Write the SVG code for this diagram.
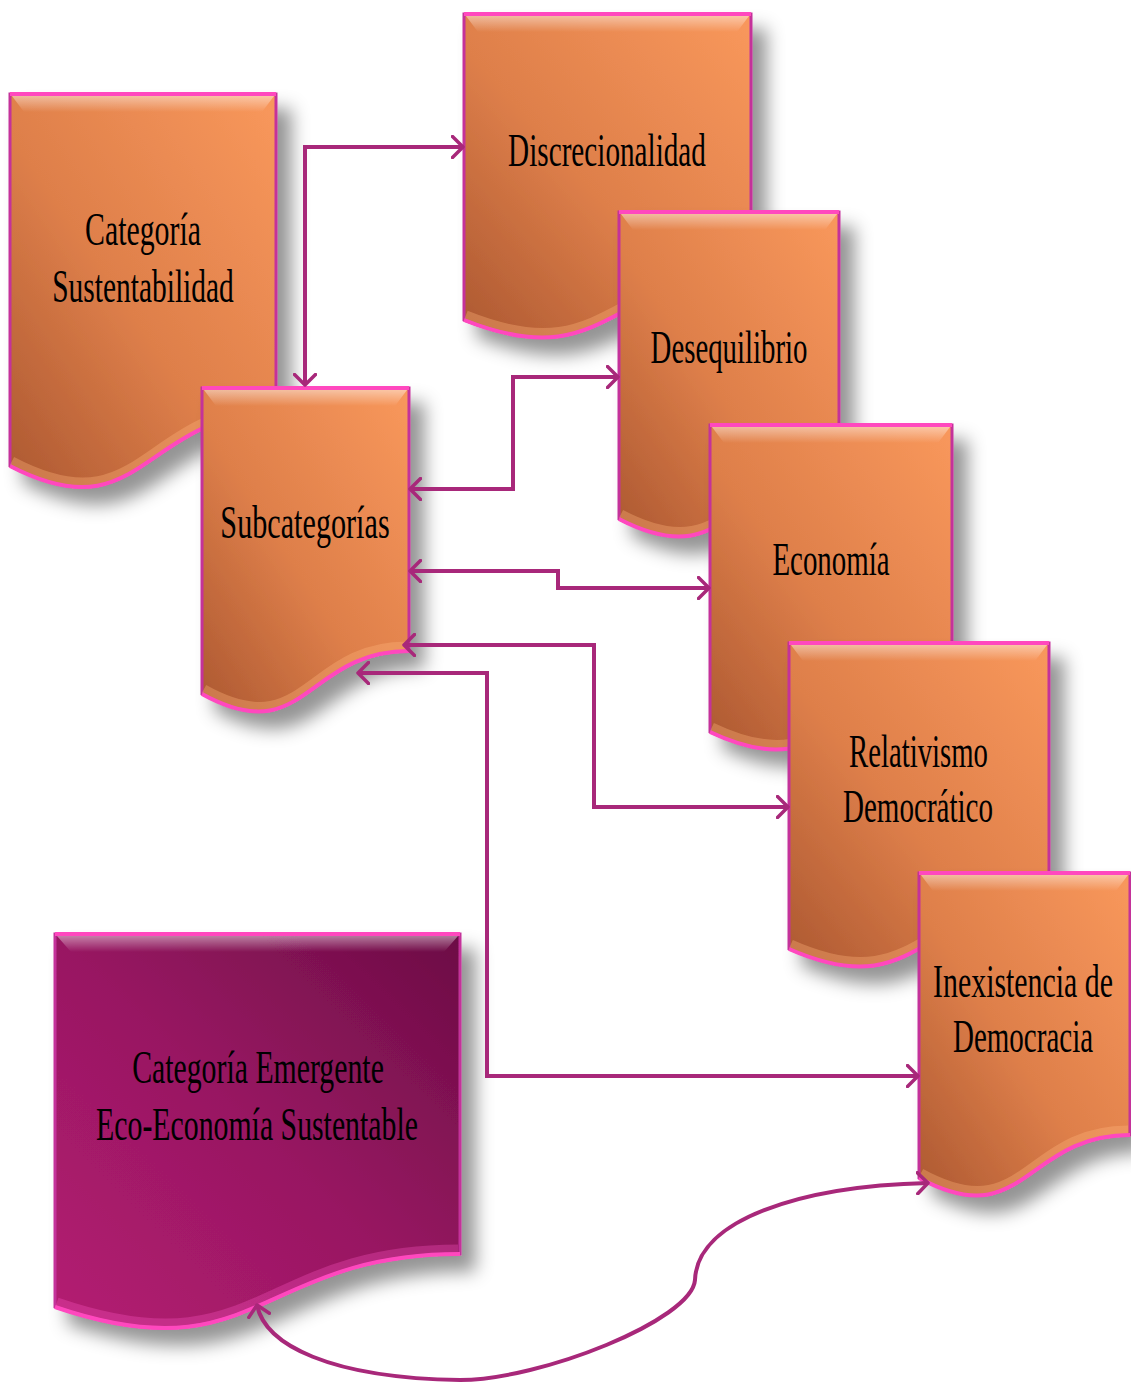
<svg xmlns="http://www.w3.org/2000/svg" width="1131" height="1383" viewBox="0 0 1131 1383">
<defs>
  <linearGradient id="gOr" x1="0" y1="1" x2="1" y2="0">
    <stop offset="0" stop-color="#AC5831"/>
    <stop offset="0.45" stop-color="#DE7F4A"/>
    <stop offset="1" stop-color="#F9985C"/>
  </linearGradient>
  <linearGradient id="gPu" x1="0" y1="1" x2="1" y2="0">
    <stop offset="0" stop-color="#B41D72"/>
    <stop offset="0.5" stop-color="#981762"/>
    <stop offset="1" stop-color="#6C0D45"/>
  </linearGradient>
  <linearGradient id="gTop" x1="0" y1="0" x2="0" y2="1">
    <stop offset="0" stop-color="#FFFFFF" stop-opacity="0.45"/>
    <stop offset="1" stop-color="#FFFFFF" stop-opacity="0"/>
  </linearGradient>
  <filter id="sh" x="-20%" y="-20%" width="150%" height="150%">
    <feDropShadow dx="14" dy="16" stdDeviation="9" flood-color="#000" flood-opacity="0.42"/>
  </filter>
  <marker id="ar" viewBox="0 0 14 24" refX="12" refY="12" markerWidth="14" markerHeight="24" markerUnits="userSpaceOnUse" orient="auto-start-reverse">
    <path d="M1.5,1.5 L12,12 L1.5,22.5" fill="none" stroke="#A8287A" stroke-width="3.5" stroke-linecap="round" stroke-linejoin="round"/>
  </marker>
</defs>
<style>
  .or { fill: url(#gOr); stroke: #C4339A; stroke-width: 3; filter: url(#sh); }
  .pu { fill: url(#gPu); stroke: #C4339A; stroke-width: 3; filter: url(#sh); }
  .edge { fill: none; stroke: #FF48BE; stroke-width: 4; }
  .top { fill: url(#gTop); }
  .wave { fill: none; stroke: #FFB47C; stroke-width: 9; stroke-opacity: 0.35; }
  .wavep { fill: none; stroke: #FF5AC8; stroke-width: 9; stroke-opacity: 0.3; }
  .t { font-family: "Liberation Serif", "Times New Roman", serif; font-size: 46px; fill: #000; text-anchor: middle; }
  .c { fill: none; stroke: #A8287A; stroke-width: 4; }
</style>

<g id="n-categoria">
  <path class="or" d="M10,94 H276 V413 C143,413 143,535 10,466 Z"/>
  <path class="top" d="M12,96 H274 L262,112 H24 Z"/>
  <path class="wave" d="M274,408 C143,408 143,530 12,461"/>
  <path class="edge" d="M10,94 H276 M276,413 C143,413 143,535 10,466"/>
  <text class="t" transform="translate(143,245) scale(0.62,1)" x="0" y="0" textLength="187" lengthAdjust="spacingAndGlyphs">Categoría</text>
  <text class="t" transform="translate(143,302) scale(0.62,1)" x="0" y="0" textLength="293" lengthAdjust="spacingAndGlyphs">Sustentabilidad</text>
</g>

<g id="n-discrecionalidad">
  <path class="or" d="M464,14 H751 V277 C607.5,277 607.5,377 464,320 Z"/>
  <path class="top" d="M466,16 H749 L737,32 H478 Z"/>
  <path class="wave" d="M749,272 C607.5,272 607.5,372 466,315"/>
  <path class="edge" d="M464,14 H751 M751,277 C607.5,277 607.5,377 464,320"/>
  <text class="t" transform="translate(607,166) scale(0.62,1)" x="0" y="0" textLength="319" lengthAdjust="spacingAndGlyphs">Discrecionalidad</text>
</g>

<g id="n-subcategorias">
  <path class="or" d="M202,388 H409 V651 C305.5,651 305.5,751 202,694 Z"/>
  <path class="top" d="M204,390 H407 L395,406 H216 Z"/>
  <path class="wave" d="M407,646 C305.5,646 305.5,746 204,689"/>
  <path class="edge" d="M202,388 H409 M409,651 C305.5,651 305.5,751 202,694"/>
  <text class="t" transform="translate(305,538) scale(0.62,1)" x="0" y="0" textLength="273" lengthAdjust="spacingAndGlyphs">Subcategorías</text>
</g>

<g id="n-desequilibrio">
  <path class="or" d="M619,212 H839 V476 C729,476 729,576 619,519 Z"/>
  <path class="top" d="M621,214 H837 L825,230 H633 Z"/>
  <path class="wave" d="M837,471 C729,471 729,571 621,514"/>
  <path class="edge" d="M619,212 H839 M839,476 C729,476 729,576 619,519"/>
  <text class="t" transform="translate(729,363) scale(0.62,1)" x="0" y="0" textLength="253" lengthAdjust="spacingAndGlyphs">Desequilibrio</text>
</g>

<g id="n-economia">
  <path class="or" d="M710,425 H952 V689 C831,689 831,789 710,732 Z"/>
  <path class="top" d="M712,427 H950 L938,443 H724 Z"/>
  <path class="wave" d="M950,684 C831,684 831,784 712,727"/>
  <path class="edge" d="M710,425 H952 M952,689 C831,689 831,789 710,732"/>
  <text class="t" transform="translate(831,575) scale(0.62,1)" x="0" y="0" textLength="189" lengthAdjust="spacingAndGlyphs">Economía</text>
</g>

<g id="n-relativismo">
  <path class="or" d="M789,643 H1049 V906 C919,906 919,1006 789,949 Z"/>
  <path class="top" d="M791,645 H1047 L1035,661 H803 Z"/>
  <path class="wave" d="M1047,901 C919,901 919,1001 791,944"/>
  <path class="edge" d="M789,643 H1049 M1049,906 C919,906 919,1006 789,949"/>
  <text class="t" transform="translate(918.5,767) scale(0.62,1)" x="0" y="0" textLength="224" lengthAdjust="spacingAndGlyphs">Relativismo</text>
  <text class="t" transform="translate(918,822) scale(0.62,1)" x="0" y="0" textLength="242" lengthAdjust="spacingAndGlyphs">Democrático</text>
</g>

<g id="n-inexistencia">
  <path class="or" d="M919,873 H1130 V1135 C1024.5,1135 1024.5,1235 919,1178 Z"/>
  <path class="top" d="M921,875 H1128 L1116,891 H933 Z"/>
  <path class="wave" d="M1128,1130 C1024.5,1130 1024.5,1230 921,1173"/>
  <path class="edge" d="M919,873 H1130 M1130,1135 C1024.5,1135 1024.5,1235 919,1178"/>
  <text class="t" transform="translate(1023,997) scale(0.62,1)" x="0" y="0" textLength="290" lengthAdjust="spacingAndGlyphs">Inexistencia de</text>
  <text class="t" transform="translate(1023,1052) scale(0.62,1)" x="0" y="0" textLength="226" lengthAdjust="spacingAndGlyphs">Democracia</text>
</g>

<g id="n-emergente">
  <path class="pu" d="M55,934 H460 V1254 C257.5,1254 257.5,1376 55,1307 Z"/>
  <path class="top" d="M57,936 H458 L444,952 H71 Z"/>
  <path class="wavep" d="M458,1249 C257.5,1249 257.5,1371 57,1302"/>
  <path class="edge" d="M55,934 H460 M460,1254 C257.5,1254 257.5,1376 55,1307"/>
  <text class="t" transform="translate(258,1083) scale(0.62,1)" x="0" y="0" textLength="406" lengthAdjust="spacingAndGlyphs">Categoría Emergente</text>
  <text class="t" transform="translate(257,1140) scale(0.62,1)" x="0" y="0" textLength="519" lengthAdjust="spacingAndGlyphs">Eco-Economía Sustentable</text>
</g>

<g id="connectors">
  <path class="c" d="M463,147 H305 V385" marker-start="url(#ar)" marker-end="url(#ar)"/>
  <path class="c" d="M410,489 H513 V377 H618" marker-start="url(#ar)" marker-end="url(#ar)"/>
  <path class="c" d="M410,571 H558 V588 H709" marker-start="url(#ar)" marker-end="url(#ar)"/>
  <path class="c" d="M404,645 H594 V807 H788" marker-start="url(#ar)" marker-end="url(#ar)"/>
  <path class="c" d="M358,673 H487 V1076 H918" marker-start="url(#ar)" marker-end="url(#ar)"/>
  <path class="c" d="M257,1305 C265,1345 330,1378 460,1380 C540,1380 692,1320 695,1280 C697,1220 800,1186 928,1183" marker-start="url(#ar)" marker-end="url(#ar)"/>
</g>
</svg>
